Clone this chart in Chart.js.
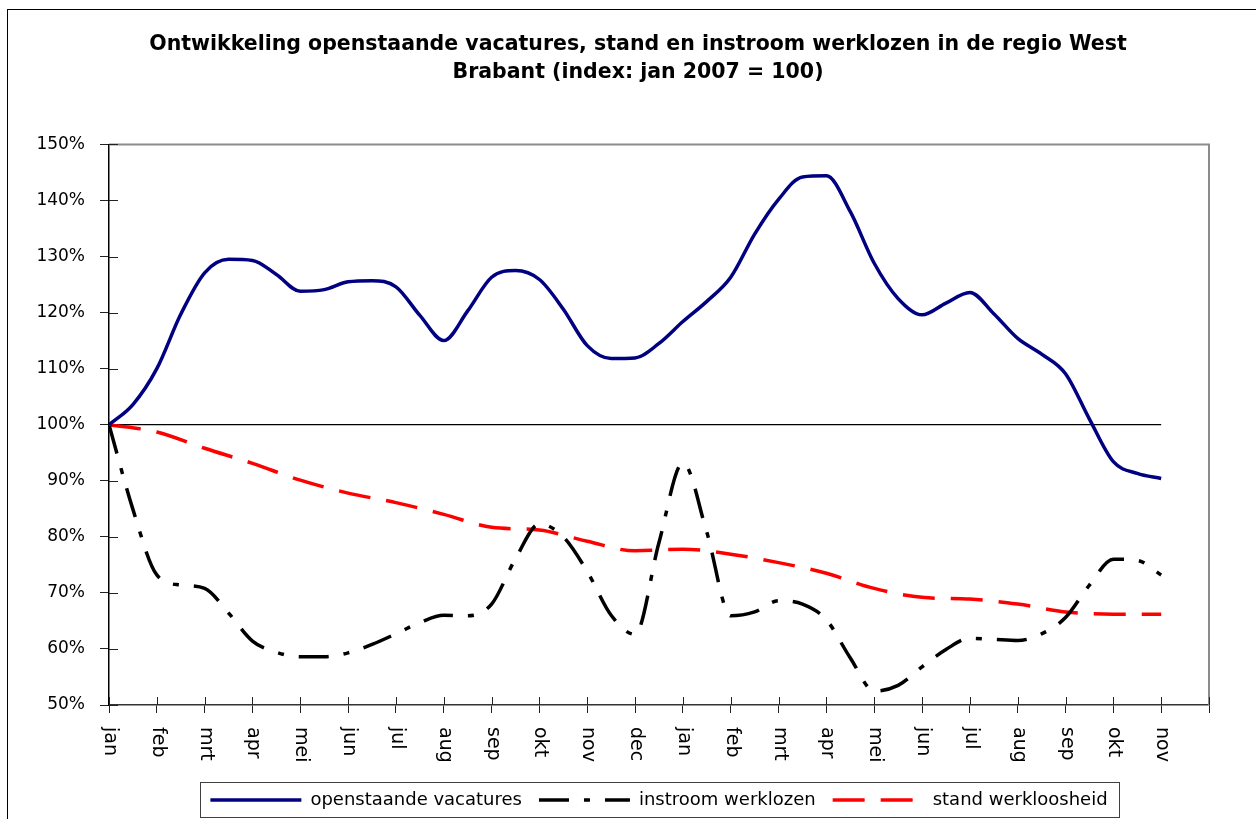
<!DOCTYPE html>
<html>
<head>
<meta charset="utf-8">
<script src="https://cdn.jsdelivr.net/npm/chart.js@4.4.1/dist/chart.umd.min.js"></script>
<style>
  html, body { margin: 0; padding: 0; background: #fff; }
</style>
</head>
<body>
<canvas id="grafiek" width="1256" height="819"></canvas>
<script>
// maanden op de x-as (jan 2007 t/m nov 2008)
const maanden = ['jan', 'feb', 'mrt', 'apr', 'mei', 'jun', 'jul', 'aug', 'sep', 'okt', 'nov', 'dec',
                 'jan', 'feb', 'mrt', 'apr', 'mei', 'jun', 'jul', 'aug', 'sep', 'okt', 'nov'];

// openstaande vacatures, per halve maand (index jan 2007 = 100)
const vacatures = [100, 103.6, 110.0, 119.7, 127.1, 129.5, 129.3, 126.8, 123.8, 124.1,
  125.5, 125.7, 124.6, 119.5, 115.0, 120.3, 126.3, 127.5, 125.9, 120.6,
  114.1, 111.8, 111.9, 114.5, 118.4, 122.0, 126.3, 134.0, 140.2, 144.2,
  144.4, 138.0, 128.8, 122.5, 119.6, 121.7, 123.6, 119.8, 115.4, 112.6,
  109.1, 101.0, 93.4, 91.3, 90.4];

// instroom werklozen, per halve maand
const instroom = [100, 84.9, 73.2, 71.4, 70.8, 66.4, 61.4, 59.4, 58.6, 58.6,
  59.3, 60.8, 62.7, 64.7, 66.0, 65.9, 68.0, 76.1, 82.3, 80.0,
  73.8, 66.0, 62.6, 79.0, 93.2, 80.8, 65.9, 66.6, 68.6, 68.0,
  65.2, 58.4, 52.5, 53.5, 56.8, 59.9, 61.9, 61.7, 61.5, 62.7,
  65.6, 71.4, 76.0, 75.8, 73.2];

// stand werkloosheid, per maand
const stand = [100, 98.7, 95.8, 93.1, 90.1, 87.8, 86.1, 84.0, 81.7, 81.2, 79.2, 77.5,
  77.8, 76.9, 75.4, 73.5, 70.8, 69.2, 68.9, 68.0, 66.6, 66.2, 66.2];

// de 100%-lijn (begin en eind)
const indexLijn = [100, 100];

const FONT = 'DejaVu Sans';

const punten = (arr, stap) => arr.map((v, i) => ({ x: i * stap, y: v }));

// extra tekenwerk: kader, grijze rand, kruisende streepjes, x-labels, legendakader
const opmaak = {
  id: 'opmaak',
  afterLayout(chart) {
    // titel centreren zoals in het origineel
    const t = chart.titleBlock;
    if (t) { t.left = 20; t.right = 1256; }
  },
  beforeDraw(chart) {
    const c = chart.ctx;
    c.save();
    c.strokeStyle = '#000';
    c.lineWidth = 1;
    c.strokeRect(7.5, 9.5, 1400, 1000);
    c.restore();
  },
  afterDraw(chart) {
    const c = chart.ctx;
    const a = chart.chartArea;
    const xs = chart.scales.x, ys = chart.scales.y;
    c.save();
    // grijze rand boven en rechts
    c.strokeStyle = '#8c8c8c';
    c.lineWidth = 2;
    c.beginPath();
    c.moveTo(a.left, a.top);
    c.lineTo(a.right, a.top);
    c.lineTo(a.right, a.bottom);
    c.stroke();
    // streepjes binnen het plotvlak
    c.strokeStyle = '#222';
    c.lineWidth = 1;
    c.beginPath();
    ys.ticks.forEach(t => {
      const y = Math.round(ys.getPixelForValue(t.value)) + 0.5;
      c.moveTo(a.left, y);
      c.lineTo(a.left + 9, y);
    });
    xs.ticks.forEach(t => {
      const x = Math.round(xs.getPixelForValue(t.value)) + 0.5;
      c.moveTo(x, a.bottom);
      c.lineTo(x, a.bottom - 8);
    });
    c.stroke();
    // maandlabels, van boven naar beneden geschreven
    c.fillStyle = '#000';
    c.font = '19px "' + FONT + '"';
    c.textAlign = 'left';
    c.textBaseline = 'alphabetic';
    maanden.forEach((m, i) => {
      const x = xs.getPixelForValue(i);
      c.save();
      c.translate(x - 4, a.bottom + 22);
      c.rotate(Math.PI / 2);
      c.fillText(m, 0, 0);
      c.restore();
    });
    // kader om de legenda
    const hb = chart.legend.legendHitBoxes;
    if (hb && hb.length) {
      const l = Math.min(...hb.map(h => h.left)) - 10;
      const r = Math.max(...hb.map(h => h.left + h.width)) + 12;
      const t = hb[0].top - 9;
      c.strokeStyle = '#404040';
      c.lineWidth = 1;
      c.strokeRect(Math.round(l) + 0.5, Math.round(t) + 0.5, Math.round(r - l), 35);
    }
    c.restore();
  }
};

new Chart(document.getElementById('grafiek'), {
  type: 'line',
  data: {
    datasets: [{
      label: 'openstaande vacatures',
      data: punten(vacatures, 0.5),
      borderColor: '#000080',
      backgroundColor: '#000080',
      borderWidth: 3.5
    }, {
      label: 'instroom werklozen',
      data: punten(instroom, 0.5),
      borderColor: '#000',
      backgroundColor: '#000',
      borderWidth: 3.5,
      borderDash: [30, 15, 6, 15]
    }, {
      label: 'stand werkloosheid',
      data: punten(stand, 1),
      borderColor: '#ff0000',
      backgroundColor: '#ff0000',
      borderWidth: 3.5,
      borderDash: [32, 16]
    }, {
      label: '100%',
      data: indexLijn.map((v, i) => ({ x: i * (maanden.length - 1), y: v })),
      borderColor: '#000',
      borderWidth: 1.2,
      cubicInterpolationMode: 'default',
      tension: 0
    }]
  },
  options: {
    responsive: false,
    animation: false,
    events: [],
    elements: {
      point: { radius: 0 },
      line: { cubicInterpolationMode: 'monotone', fill: false, borderCapStyle: 'butt' }
    },
    layout: { padding: { left: 0, right: 47, top: 30, bottom: 0 } },
    plugins: {
      title: {
        display: true,
        text: ['Ontwikkeling openstaande vacatures, stand en instroom werklozen in de regio West',
               'Brabant (index: jan 2007 = 100)'],
        color: '#000',
        font: { family: FONT, size: 20.5, weight: 'bold', lineHeight: 1.4 },
        padding: { top: 0, bottom: 57 }
      },
      legend: {
        position: 'bottom',
        fullSize: false,
        labels: {
          usePointStyle: true,
          pointStyle: 'line',
          pointStyleWidth: 91,
          color: '#000',
          font: { family: FONT, size: 18 },
          padding: 17,
          generateLabels: chart =>
            Chart.defaults.plugins.legend.labels.generateLabels(chart).map(item => {
              const ds = chart.data.datasets[item.datasetIndex];
              item.lineDash = ds.borderDash || [];
              item.strokeStyle = ds.borderColor;
              item.lineWidth = ds.borderWidth;
              return item;
            }),
          filter: item => item.datasetIndex < 3
        }
      },
      tooltip: { enabled: false }
    },
    scales: {
      x: {
        type: 'linear',
        min: 0,
        max: 23,
        afterFit: s => { s.height = 69; },
        ticks: { display: false, stepSize: 1, autoSkip: false },
        grid: { drawOnChartArea: false, tickLength: 8, color: '#222' },
        border: { color: '#333', width: 1.5 }
      },
      y: {
        min: 50,
        max: 150,
        afterFit: s => { s.width = 109; },
        ticks: {
          stepSize: 10,
          padding: 15,
          color: '#000',
          font: { family: FONT, size: 17 },
          callback: v => v + '%'
        },
        grid: { drawOnChartArea: false, tickLength: 9, color: '#222' },
        border: { color: '#000', width: 1.5 }
      }
    }
  },
  plugins: [opmaak]
});
</script>
</body>
</html>
